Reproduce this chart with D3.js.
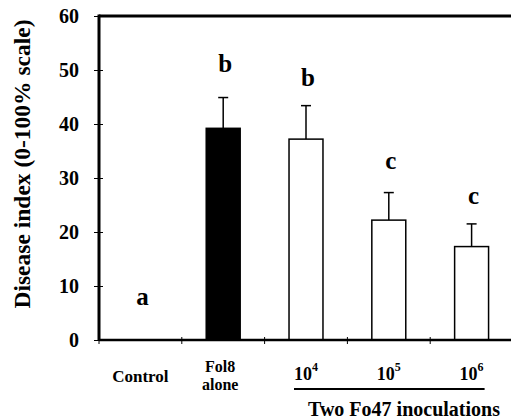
<!DOCTYPE html>
<html>
<head>
<meta charset="utf-8">
<script src="https://cdn.jsdelivr.net/npm/d3@7"></script>
<style>
	body { margin: 0; background: #fff; }
	text { font-family: "Liberation Serif", "Times New Roman", serif; font-weight: bold; fill: #000; }
</style>
</head>
<body>
<script>
'use strict'

// chart values
const categories = ['Control', 'Fol8', '1e4', '1e5', '1e6'];
const means = [0, 39.2, 37.2, 22.2, 17.3];
const errors = [0, 5.7, 6.2, 5.1, 4.2];
const letters = ['a', 'b', 'b', 'c', 'c'];
const letterLevels = [6.5, 49.6, 47, 31.7, 25.2];
const yTicks = [0, 10, 20, 30, 40, 50, 60];

;(() => {
	const width = 511, height = 419;
	const margin = { left: 99, top: 16, bottom: 79 };

	const svg = d3.select('body').append('svg')
		.attr('width', width)
		.attr('height', height);

	const x = d3.scaleBand()
		.domain(categories)
		.range([margin.left, 513])
		.padding(0);

	const y = d3.scaleLinear()
		.domain([0, 60])
		.range([height - margin.bottom, margin.top]);

	const barW = x.bandwidth() * 0.41;

	// y axis
	const yAxis = svg.append('g')
		.attr('transform', `translate(${margin.left},0)`)
		.call(d3.axisLeft(y).tickValues(yTicks).tickSize(5).tickPadding(15));
	yAxis.select('.domain').remove();
	yAxis.selectAll('.tick line').attr('x2', 4).attr('x1', -5).attr('stroke-width', 1);
	yAxis.selectAll('.tick text')
		.style('font-size', '20px')
		.style('font-family', '"Liberation Serif", serif')
		.style('font-weight', 'bold')
		.attr('dy', '0.32em');

	// x boundary ticks
	const xBounds = categories.map(c => x(c));
	svg.selectAll('line.xtick')
		.data(xBounds)
		.enter().append('line')
		.attr('x1', d => d).attr('x2', d => d)
		.attr('y1', y(0) - 3).attr('y2', y(0) + 4)
		.attr('stroke', '#000').attr('stroke-width', 1);

	// bars
	svg.selectAll('rect.bar')
		.data(means)
		.enter().append('rect')
		.attr('x', (d, i) => x(categories[i]) + x.bandwidth() / 2 - barW / 2)
		.attr('y', d => y(d))
		.attr('width', barW)
		.attr('height', d => y(0) - y(d))
		.attr('fill', (d, i) => i === 1 ? '#000' : '#fff')
		.attr('stroke', '#000')
		.attr('stroke-width', 1.5)
		.style('display', d => d > 0 ? null : 'none');

	// error bars
	const eb = svg.selectAll('g.err')
		.data(means.map((m, i) => ({ m, e: errors[i], c: categories[i] })).filter(d => d.e > 0))
		.enter().append('g');
	eb.append('line')
		.attr('x1', d => x(d.c) + x.bandwidth() / 2).attr('x2', d => x(d.c) + x.bandwidth() / 2)
		.attr('y1', d => y(d.m)).attr('y2', d => y(d.m + d.e))
		.attr('stroke', '#000').attr('stroke-width', 1.5);
	eb.append('line')
		.attr('x1', d => x(d.c) + x.bandwidth() / 2 - 5).attr('x2', d => x(d.c) + x.bandwidth() / 2 + 5)
		.attr('y1', d => y(d.m + d.e)).attr('y2', d => y(d.m + d.e))
		.attr('stroke', '#000').attr('stroke-width', 1.5);

	// frame: left, top, bottom
	svg.append('line')
		.attr('x1', margin.left).attr('x2', margin.left)
		.attr('y1', y(60) - 1.5).attr('y2', y(0) + 1)
		.attr('stroke', '#000').attr('stroke-width', 3);
	svg.append('line')
		.attr('x1', margin.left).attr('x2', width)
		.attr('y1', y(60)).attr('y2', y(60))
		.attr('stroke', '#000').attr('stroke-width', 3);
	svg.append('line')
		.attr('x1', margin.left).attr('x2', width)
		.attr('y1', y(0)).attr('y2', y(0))
		.attr('stroke', '#000').attr('stroke-width', 2.5);

	// significance letters
	svg.selectAll('text.letter')
		.data(letters)
		.enter().append('text')
		.attr('x', (d, i) => x(categories[i]) + x.bandwidth() / 2 + 2)
		.attr('y', (d, i) => y(letterLevels[i]))
		.attr('text-anchor', 'middle')
		.style('font-size', '25px')
		.text(d => d);

	// x labels
	const cx = c => x(c) + x.bandwidth() / 2;
	svg.append('text')
		.attr('x', cx('Control')).attr('y', 382)
		.attr('text-anchor', 'middle').style('font-size', '17px')
		.text('Control');
	svg.append('text')
		.attr('x', cx('Fol8') - 3).attr('y', 372)
		.attr('text-anchor', 'middle').style('font-size', '16px')
		.text('Fol8');
	svg.append('text')
		.attr('x', cx('Fol8') - 3).attr('y', 390)
		.attr('text-anchor', 'middle').style('font-size', '16px')
		.text('alone');

	const powers = ['4', '5', '6'];
	powers.forEach((p, i) => {
		const t = svg.append('text')
			.attr('x', cx(categories[i + 2])).attr('y', 380)
			.attr('text-anchor', 'middle').style('font-size', '18px');
		t.append('tspan').text('10');
		t.append('tspan').attr('dy', -9).style('font-size', '12px').text(p);
	});

	svg.append('line')
		.attr('x1', cx('1e4') - 12).attr('x2', cx('1e6') + 13)
		.attr('y1', 389).attr('y2', 389)
		.attr('stroke', '#000').attr('stroke-width', 2);

	svg.append('text')
		.attr('x', 404).attr('y', 416)
		.attr('text-anchor', 'middle').style('font-size', '20px')
		.text('Two Fo47 inoculations');

	// y title
	svg.append('text')
		.attr('transform', `translate(30,${y(30) - 14}) rotate(-90)`)
		.attr('text-anchor', 'middle')
		.style('font-size', '23.5px')
		.text('Disease index (0-100% scale)');
})();
</script>
</body>
</html>
